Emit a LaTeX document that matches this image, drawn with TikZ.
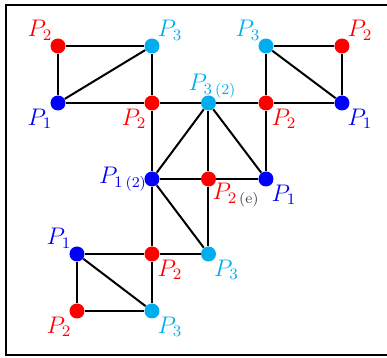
\documentclass[tikz,border=0pt]{standalone}
\usepackage{amsmath}
\usetikzlibrary{positioning}
\definecolor{pcyan}{RGB}{0,174,239}
\definecolor{egray}{RGB}{70,70,70}
\newcommand{\sub}[1]{\text{\fontsize{7.5}{8}\selectfont #1}}

\begin{document}
\begin{tikzpicture}[x=0.5pt, y=-0.5pt,
  dot/.style={circle, fill, inner sep=0pt, minimum size=7.5pt},
  lbl/.style={font=\fontsize{12}{14}\selectfont},
  edge/.style={line width=1pt}]
\useasboundingbox (0,0) rectangle (387,358);
% Draw frame
\draw[line width=1.2pt] (6,5) rectangle (395,355);

% Top-left square
\node[dot, red] (a1) at (58,46) {};
\node[dot, pcyan] (a2) at (152,46) {};
\node[dot, blue] (a3) at (58,103) {};
\path (a1) node[lbl, red, above left=-1pt] {$P_2$}
      (a2) node[lbl, pcyan, above right=-1pt] {$P_3$}
      (a3) node[lbl, blue, below left=-1pt] {$P_1$};

% Middle row
\node[dot, red] (c1) at (152,103) {};
\node[dot, pcyan] (c2) at (208.5,103) {};
\node[dot, red] (c3) at (266,103) {};
\node[dot, blue] (c4) at (152,179) {};
\node[dot, red] (c5) at (208.5,179) {};
\node[dot, blue] (c6) at (266,179) {};
\path (c1) node[lbl, red, below left=-1pt] {$P_2$}
      (c2) node[lbl, pcyan, above=-1pt, xshift=2pt] {$P_{3\,\sub{(2)}}$}
      (c3) node[lbl, red, below right=-1pt] {$P_2$}
      (c4) node[lbl, blue, left=-1pt] {$P_{1\,\sub{(2)}}$}
      (c5) node[lbl, red, below right=-2pt] {$P_{2\,\sub{\textcolor{egray}{(e)}}}$}
      (c6) node[lbl, blue, below right=-1pt] {$P_1$};

% Top-right square
\node[dot, pcyan] (b1) at (266,46) {};
\node[dot, red] (b2) at (342,46) {};
\node[dot, blue] (b3) at (342,103) {};
\path (b1) node[lbl, pcyan, above left=-1pt] {$P_3$}
      (b2) node[lbl, red, above right=-1pt] {$P_2$}
      (b3) node[lbl, blue, below right=-1pt] {$P_1$};

% Bottom square
\node[dot, blue] (d1) at (77,254) {};
\node[dot, red] (d2) at (152,254) {};
\node[dot, pcyan] (d3) at (208.5,254) {};
\node[dot, red] (d4) at (77,311) {};
\node[dot, pcyan] (d5) at (152,311) {};
\path (d1) node[lbl, blue, above left=-1pt] {$P_1$}
      (d2) node[lbl, red, below right=-1pt] {$P_2$}
      (d3) node[lbl, pcyan, below right=-1pt] {$P_3$}
      (d4) node[lbl, red, below left=-1pt] {$P_2$}
      (d5) node[lbl, pcyan, below right=-1pt] {$P_3$};

% Draw edges
\foreach \u/\v in {a1/a2, a1/a3, a3/a2, a3/c1, a2/c1, c1/c2, c2/c3, c3/b3,
                   b1/b2, b2/b3, b1/b3, b1/c3, c1/c4, c2/c4, c2/c5, c2/c6,
                   c3/c6, c4/c5, c5/c6, c4/d2, d2/d5, c4/d3, c5/d3, d2/d3,
                   d1/d2, d1/d4, d1/d5, d4/d5}
  \draw[edge] (\u) -- (\v);
\end{tikzpicture}
\end{document}
